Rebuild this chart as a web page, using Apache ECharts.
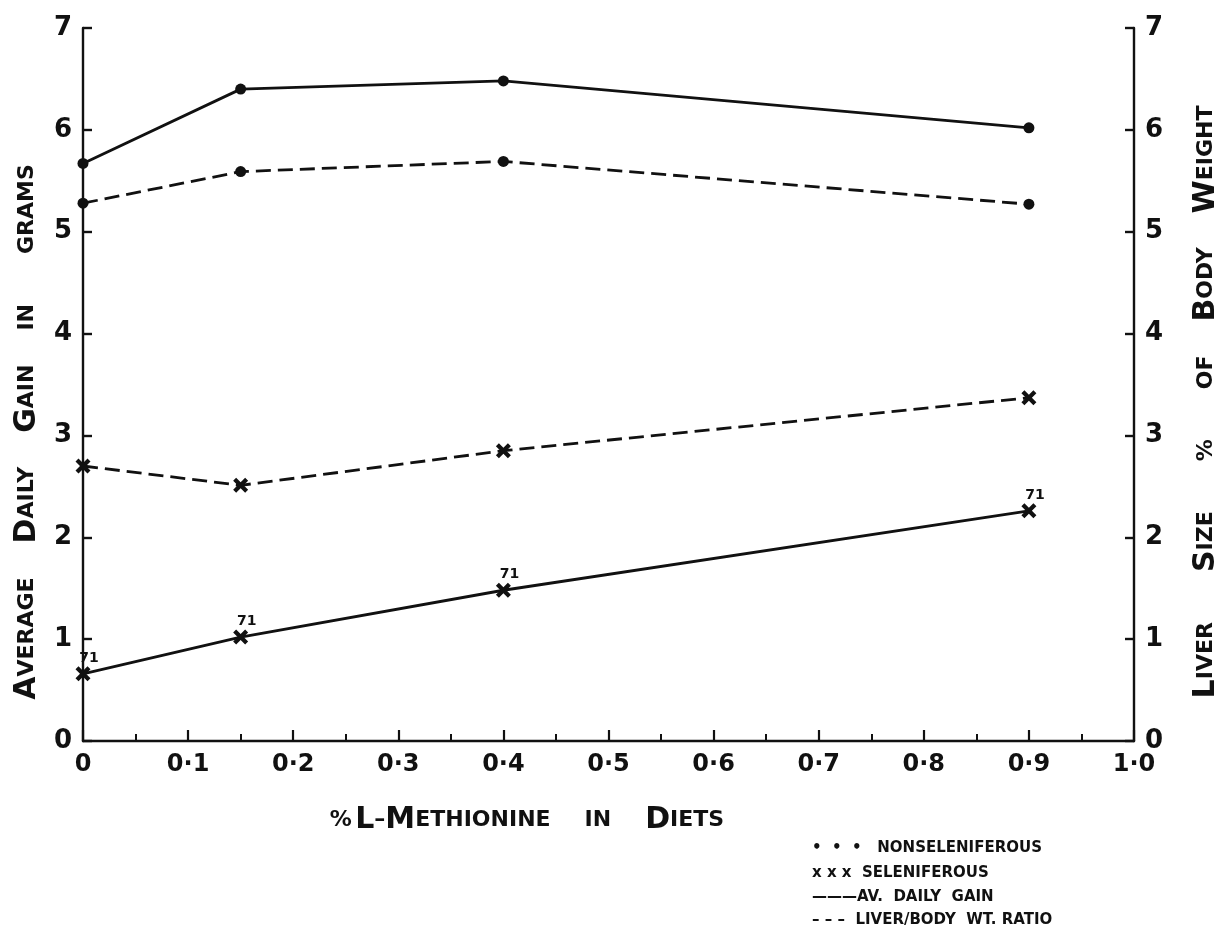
<!DOCTYPE html>
<html>
<head>
<meta charset="utf-8">
<script src="https://cdn.jsdelivr.net/npm/echarts@6/dist/echarts.min.js"></script>
<style>
html,body{margin:0;padding:0;background:#fff;}
#chart{width:1231px;height:931px;}
</style>
</head>
<body>
<div id="chart"></div>
<script>
// % L-methionine in diets
var methionine = [0, 0.15, 0.4, 0.9];
// Nonseleniferous
var gainNonSel = [5.67, 6.40, 6.48, 6.02];
var liverNonSel = [5.28, 5.59, 5.69, 5.27];
// Seleniferous
var gainSel = [0.66, 1.02, 1.48, 2.26];
var liverSel = [2.70, 2.51, 2.85, 3.37];
var selLabels = ['71', '71', '71', '71'];
var yTicks = [0, 1, 2, 3, 4, 5, 6, 7];

var FONT = 'DejaVu Sans';
var INK = '#111';

function pairs(ys) { return methionine.map(function (x, i) { return [x, ys[i]]; }); }

var xSymbol = 'path://M0,2 L2,0 L5,3 L8,0 L10,2 L7,5 L10,8 L8,10 L5,7 L2,10 L0,8 L3,5 Z';

var richStyles = {
  b: { fontFamily: FONT, fontWeight: 'bold', fontSize: 30, fill: INK },
  s: { fontFamily: FONT, fontWeight: 'bold', fontSize: 22, fill: INK },
  g: { width: 34 },
  h: { width: 50 }
};

var chart = echarts.init(document.getElementById('chart'), null, { renderer: 'canvas' });

var lineBase = function (name, data, dashed, sym, symSize) {
  return {
    name: name,
    type: 'line',
    data: pairs(data),
    symbol: sym,
    symbolSize: symSize,
    showAllSymbol: true,
    lineStyle: { color: INK, width: 2.8, type: dashed ? [15, 7] : 'solid' },
    itemStyle: { color: INK, borderColor: INK, borderWidth: 0 },
    z: 3,
    animation: false
  };
};

var selGain = lineBase('Seleniferous gain', gainSel, false, xSymbol, 15);
selGain.label = {
  show: true,
  position: 'top',
  offset: [6, 4],
  formatter: function (p) { return selLabels[p.dataIndex]; },
  fontFamily: FONT, fontWeight: 'bold', fontSize: 14, color: INK
};

var yAxisCommon = {
  type: 'value',
  min: 0, max: 7, interval: 1,
  axisLine: { show: true, lineStyle: { color: INK, width: 2.4 } },
  axisTick: { show: true, inside: true, length: 9, lineStyle: { color: INK, width: 2.4 } },
  splitLine: { show: false },
  axisLabel: {
    fontFamily: FONT, fontWeight: 'bold', fontSize: 26, color: INK, margin: 11,
    formatter: function (v) { return yTicks.indexOf(v) >= 0 ? String(v) : ''; }
  }
};

var option = {
  backgroundColor: '#fff',
  animation: false,
  grid: { left: 83, right: 97, top: 28, bottom: 190, containLabel: false },
  xAxis: {
    type: 'value',
    min: 0, max: 1, interval: 0.1,
    axisLine: { show: true, lineStyle: { color: INK, width: 2.4 } },
    axisTick: { show: true, inside: true, length: 11, lineStyle: { color: INK, width: 2.2 } },
    minorTick: { show: true, splitNumber: 2, length: 7, lineStyle: { color: INK, width: 2 } },
    splitLine: { show: false },
    minorSplitLine: { show: false },
    axisLabel: {
      fontFamily: FONT, fontWeight: 'bold', fontSize: 24, color: INK, margin: 12,
      formatter: function (v) { return v === 0 ? '0' : v.toFixed(1).replace('.', '\u00b7'); }
    }
  },
  yAxis: [
    Object.assign({}, yAxisCommon, { position: 'left' }),
    Object.assign({}, yAxisCommon, { position: 'right' })
  ],
  series: [
    lineBase('Nonseleniferous gain', gainNonSel, false, 'circle', 11),
    lineBase('Nonseleniferous liver', liverNonSel, true, 'circle', 11),
    lineBase('Seleniferous liver', liverSel, true, xSymbol, 15),
    selGain
  ],
  graphic: [
    {
      type: 'text', x: 27, y: 432, rotation: Math.PI / 2,
      style: {
        text: '{b|A}{s|VERAGE}{g|}{b|D}{s|AILY}{g|}{b|G}{s|AIN}{g|}{s|IN}{h|}{s|GRAMS}',
        rich: richStyles, align: 'center', verticalAlign: 'middle'
      }
    },
    {
      type: 'text', x: 1206, y: 402, rotation: Math.PI / 2,
      style: {
        text: '{b|L}{s|IVER}{h|}{b|S}{s|IZE}{h|}{s|%}{h|}{s|OF}{g|}{b|B}{s|ODY}{g|}{b|W}{s|EIGHT}',
        rich: richStyles, align: 'center', verticalAlign: 'middle'
      }
    },
    {
      type: 'text', x: 527, y: 820,
      style: {
        text: '{s|%} {b|L}{s|\u2013}{b|M}{s|ETHIONINE}{g|}{s|IN}{g|}{b|D}{s|IETS}',
        rich: richStyles, align: 'center', verticalAlign: 'middle'
      }
    },
    {
      type: 'text', x: 812, y: 848,
      style: { text: '\u2022  \u2022  \u2022   NONSELENIFEROUS', fontFamily: FONT, fontWeight: 'bold', fontSize: 15, fill: INK, verticalAlign: 'middle' }
    },
    {
      type: 'text', x: 812, y: 873,
      style: { text: 'x x x  SELENIFEROUS', fontFamily: FONT, fontWeight: 'bold', fontSize: 15, fill: INK, verticalAlign: 'middle' }
    },
    {
      type: 'text', x: 812, y: 897,
      style: { text: '\u2014\u2014\u2014AV.  DAILY  GAIN', fontFamily: FONT, fontWeight: 'bold', fontSize: 15, fill: INK, verticalAlign: 'middle' }
    },
    {
      type: 'text', x: 812, y: 920,
      style: { text: '\u2013 \u2013 \u2013  LIVER/BODY  WT. RATIO', fontFamily: FONT, fontWeight: 'bold', fontSize: 15, fill: INK, verticalAlign: 'middle' }
    }
  ]
};

chart.setOption(option);
</script>
</body>
</html>
